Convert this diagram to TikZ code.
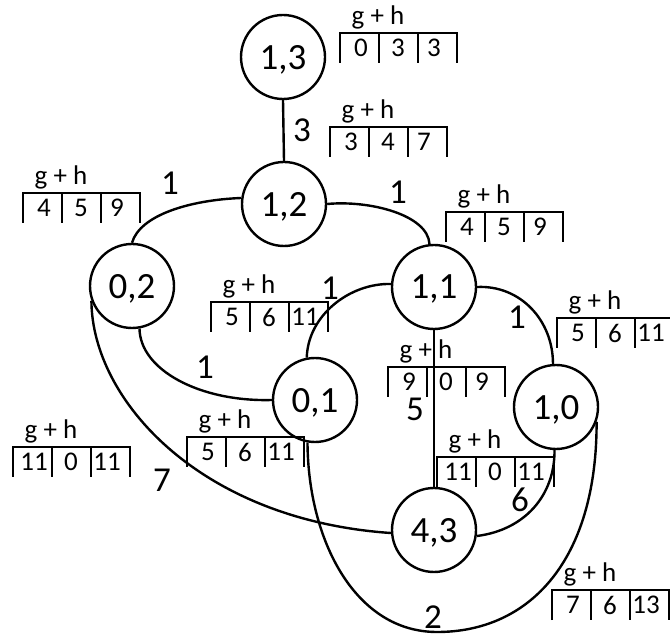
\documentclass[tikz,border=0pt]{standalone}
\usepackage{fontspec}
\setmainfont{Carlito}
\newcommand\ghtab[6]{%
  \draw[tb] (#2,#3+30) -- (#2,#3) -- (#2+117,#3) -- (#2+117,#3+30);
  \draw[tb] (#2+39,#3) -- (#2+39,#3+30);
  \draw[tb] (#2+78,#3) -- (#2+78,#3+30);
  \node[gh] (#1g) at (#2+38,#3-16) {g + h};
  \node[tn] (#1a) at (#2+21,#3+15) {#4};
  \node[tn] (#1b) at (#2+58,#3+15) {#5};
  \node[tn] (#1c) at (#2+94,#3+15) {#6};
}
\begin{document}
\begin{tikzpicture}[x=1pt,y=-1pt,
  st/.style={circle,draw,line width=2.4pt,minimum size=84pt,inner sep=0pt,
    font=\fontsize{37}{40}\selectfont,text depth=0pt},
  ed/.style={line width=2.4pt},
  wl/.style={font=\fontsize{35}{38}\selectfont,inner sep=0pt},
  gh/.style={font=\fontsize{27}{30}\selectfont,inner sep=0pt},
  tn/.style={font=\fontsize{27}{30}\selectfont,inner sep=0pt},
  tb/.style={line width=2.4pt}]
\useasboundingbox (0,0) rectangle (670,636);
% states
\node[st] (n13) at (283,57) {1,3};
\node[st] (n12) at (284,204) {1,2};
\node[st] (n02) at (132,286) {0,2};
\node[st] (n11) at (434,287) {1,1};
\node[st] (n01) at (315,400) {0,1};
\node[st] (n10) at (556,407) {1,0};
\node[st] (n43) at (434,530) {4,3};
% edges
\draw[ed] (n13.south) -- (n12.north);
\draw[ed] (n02.north) .. controls (140,215) and (190,200) .. (n12.172);
\draw[ed] (n12.east) .. controls (370,200) and (428,215) .. (n11.96);
\draw[ed] (n11.east) .. controls (520,285) and (553,320) .. (n10.94);
\draw[ed] (n11.176) .. controls (350,283) and (308,315) .. (n01.101);
\draw[ed] (n02.280) .. controls (140,370) and (200,402) .. (n01.180);
\draw[ed] (n02.200) .. controls (92,400) and (200,520) .. (n43.184);
\draw[ed] (n11.south) -- (n43.north);
\draw[ed] (n10.268) .. controls (555,495) and (525,530) .. (n43.-8);
\coordinate (bot) at (437,632);
\draw[ed] (n10.-20) .. controls (597,560) and (530,632) .. (bot)
  .. controls (355,632) and (308,540) .. (n01.260);
% edge weights
\node[wl] (w1) at (302,130) {3};
\node[wl] (w2) at (170,183) {1};
\node[wl] (w3) at (398,192) {1};
\node[wl] (w4) at (330,288) {1};
\node[wl] (w5) at (517,317) {1};
\node[wl] (w6) at (205,367) {1};
\node[wl] (w7) at (415,409) {5};
\node[wl] (w8) at (162,480) {7};
\node[wl] (w9) at (520,500) {6};
\node[wl] (w10) at (433,617) {2};
% g+h tables
\ghtab{t13}{340}{33}{0}{3}{3}
\ghtab{t12}{330}{127}{3}{4}{7}
\ghtab{t02}{23}{193}{4}{5}{9}
\ghtab{t11}{446}{212}{4}{5}{9}
\ghtab{t01a}{211}{302}{5}{6}{11}
\ghtab{t10}{557}{318}{5}{6}{11}
\ghtab{t43a}{388}{367}{9}{0}{9}
\ghtab{t43b}{13}{447}{11}{0}{11}
\ghtab{t43c}{437}{457}{11}{0}{11}
\ghtab{t01b}{187}{437}{5}{6}{11}
\ghtab{t01c}{552}{590}{7}{6}{13}
\end{tikzpicture}
\end{document}
